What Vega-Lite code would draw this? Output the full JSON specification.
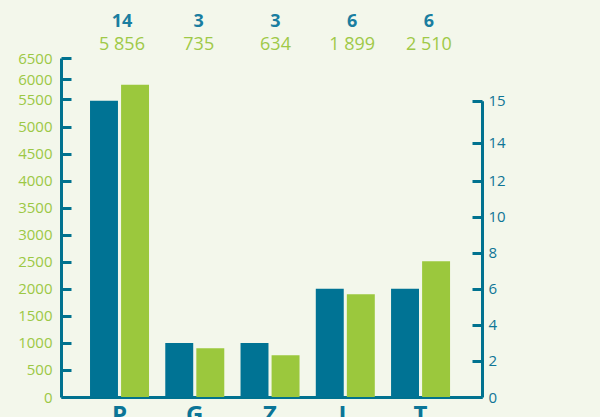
{
  "$schema": "https://vega.github.io/schema/vega-lite/v6.json",
  "autosize": {"type": "none"},
  "width": 421,
  "height": 339,
  "padding": {"left": 61, "top": 58, "right": 118, "bottom": 20},
  "background": "#f3f7eb",
  "config": {
    "view": {"stroke": null},
    "font": "Open Sans",
    "locale": {"number": {"decimal": ",", "thousands": " ", "grouping": [3], "currency": ["", ""]}}
  },
  "data": {
    "values": [
      {"cat": "P", "series": "count", "value": 14, "drawn": 15},
      {"cat": "P", "series": "amount", "value": 5856, "drawn": 5856},
      {"cat": "G", "series": "count", "value": 3, "drawn": 3},
      {"cat": "G", "series": "amount", "value": 735, "drawn": 900},
      {"cat": "Z", "series": "count", "value": 3, "drawn": 3},
      {"cat": "Z", "series": "amount", "value": 634, "drawn": 770},
      {"cat": "L", "series": "count", "value": 6, "drawn": 6},
      {"cat": "L", "series": "amount", "value": 1899, "drawn": 1899},
      {"cat": "T", "series": "count", "value": 6, "drawn": 6},
      {"cat": "T", "series": "amount", "value": 2510, "drawn": 2510}
    ]
  },
  "layer": [
    {
      "encoding": {
        "x": {
          "field": "cat",
          "type": "nominal",
          "sort": ["P", "G", "Z", "L", "T"],
          "scale": {"paddingInner": 0.216, "paddingOuter": 0.405, "align": 0.476},
          "axis": {
            "title": null,
            "orient": "bottom",
            "ticks": false,
            "labelAngle": 0,
            "labelFont": "Open Sans",
            "labelFontSize": 24,
            "labelFontWeight": "bold",
            "labelColor": "#0b7597",
            "labelPadding": 6,
            "domainColor": "#00728f",
            "domainWidth": 3,
            "grid": false
          }
        },
        "xOffset": {"field": "series", "type": "nominal", "scale": {"domain": ["count", "amount"], "paddingInner": 0.1, "paddingOuter": 0}}
      },
      "layer": [
        {
          "transform": [{"filter": "datum.series === 'count'"}],
          "mark": {"type": "bar", "color": "#007394"},
          "encoding": {
            "y": {
              "field": "drawn",
              "type": "quantitative",
              "scale": {"domain": [0, 12, 14, 15], "range": [339, 122.7, 84.7, 42.7], "zero": false, "nice": false},
              "axis": {
                "orient": "right",
                "title": null,
                "values": [0, 2, 4, 6, 8, 10, 12, 14, 15],
                "format": "d",
                "grid": false,
                "domainColor": "#00728f",
                "domainWidth": 3,
                "tickColor": "#00728f",
                "tickWidth": 3,
                "tickSize": -10,
                "labelPadding": 16,
                "labelColor": "#0f7596",
                "labelFontSize": 15,
                "labelFont": "Open Sans"
              }
            }
          }
        },
        {
          "transform": [{"filter": "datum.series === 'amount'"}],
          "mark": {"type": "bar", "color": "#9bc83d"},
          "encoding": {
            "y": {
              "field": "drawn",
              "type": "quantitative",
              "scale": {"domain": [0, 5000, 5500, 6000, 6500], "range": [339, 68.5, 41, 21, 0], "zero": false, "nice": false},
              "axis": {
                "orient": "left",
                "title": null,
                "values": [0, 500, 1000, 1500, 2000, 2500, 3000, 3500, 4000, 4500, 5000, 5500, 6000, 6500],
                "format": "d",
                "grid": false,
                "domainColor": "#00728f",
                "domainWidth": 3,
                "tickColor": "#00728f",
                "tickWidth": 3,
                "tickSize": -10,
                "labelPadding": 19,
                "labelColor": "#9cc845",
                "labelFontSize": 15,
                "labelFont": "Open Sans"
              }
            }
          }
        }
      ],
      "resolve": {"scale": {"y": "independent"}}
    },
    {
      "encoding": {
        "x": {
          "field": "cat",
          "type": "nominal",
          "sort": ["P", "G", "Z", "L", "T"],
          "scale": {"type": "point", "padding": 0.743, "align": 0.535},
          "axis": null
        },
        "y": {"field": "series", "type": "nominal", "scale": {"type": "point", "domain": ["count", "amount"], "range": [-36, -13], "padding": 0}, "axis": null}
      },
      "layer": [
        {
          "transform": [{"filter": "datum.series === 'count'"}],
          "mark": {"type": "text", "font": "Open Sans", "fontSize": 18, "fontWeight": "bold", "color": "#1a7ea0", "baseline": "middle"},
          "encoding": {"text": {"field": "value", "type": "quantitative", "format": "d"}}
        },
        {
          "transform": [{"filter": "datum.series === 'amount'"}],
          "mark": {"type": "text", "font": "Open Sans", "fontSize": 18, "fontWeight": 500, "color": "#9fc947", "baseline": "middle"},
          "encoding": {"text": {"field": "value", "type": "quantitative", "format": ","}}
        }
      ]
    }
  ],
  "resolve": {"scale": {"x": "independent", "y": "independent"}}
}
